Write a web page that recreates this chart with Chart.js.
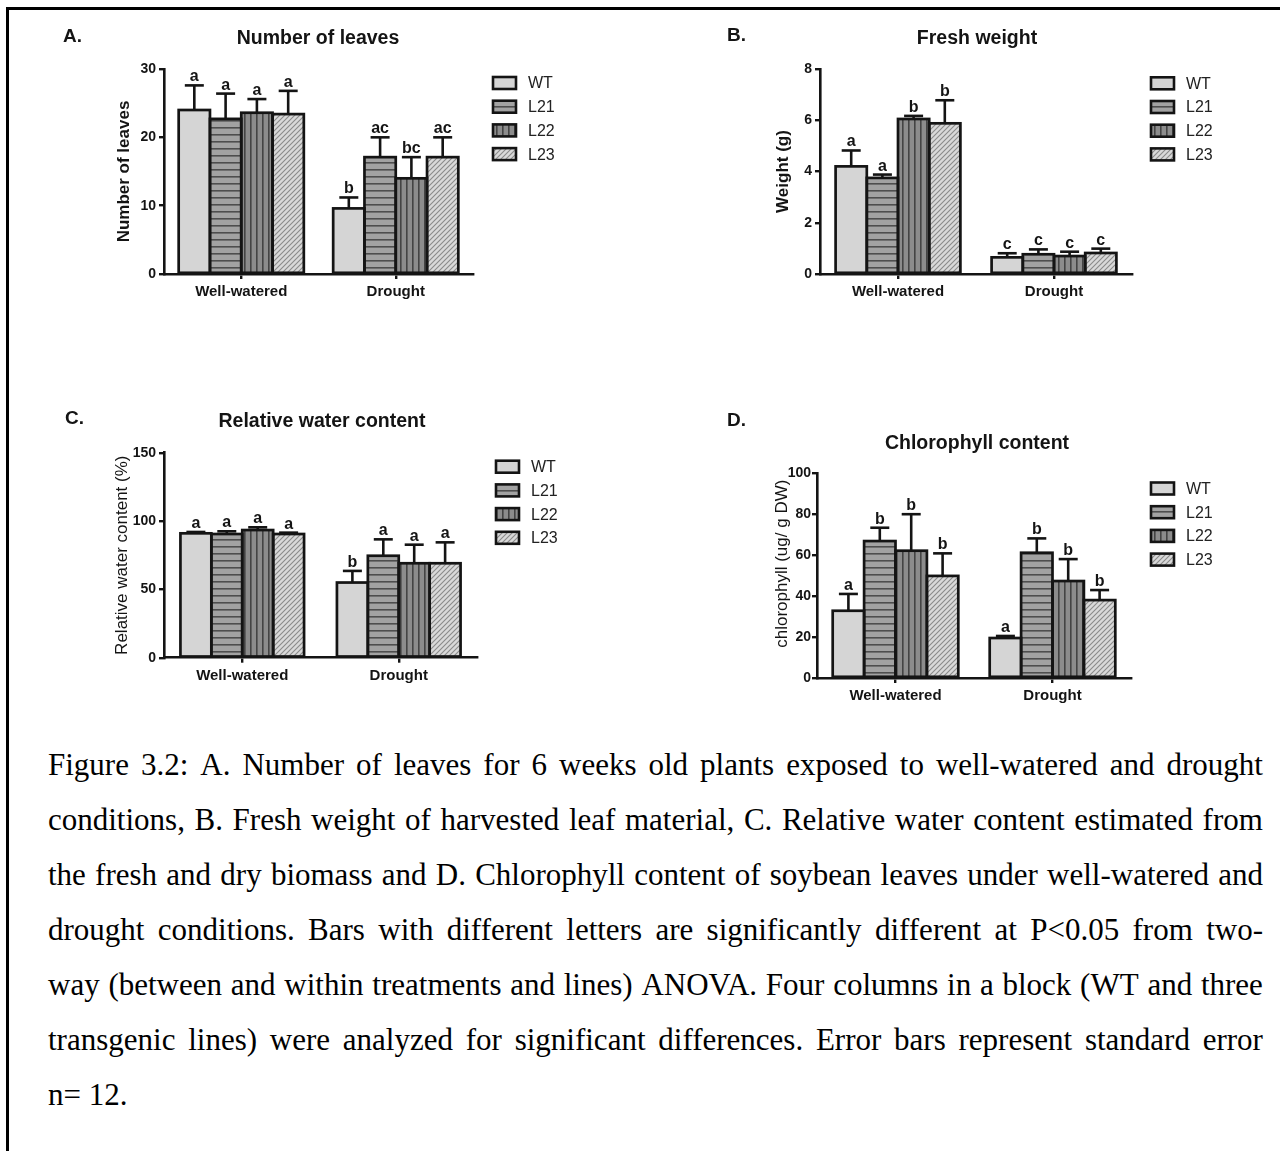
<!DOCTYPE html>
<html><head><meta charset="utf-8">
<script src="https://cdn.jsdelivr.net/npm/chart.js@4/dist/chart.umd.min.js"></script>
<style>
html,body{margin:0;padding:0;background:#fff;}
body{width:1280px;height:1151px;position:relative;overflow:hidden;}
canvas{position:absolute;}
#bt{position:absolute;left:6px;top:7px;width:1274px;height:2.5px;background:#000;}
#bl{position:absolute;left:6px;top:7px;width:2.5px;height:1144px;background:#000;}
#cap{position:absolute;left:48px;top:737px;width:1215px;font-family:'Liberation Serif','Times New Roman',serif;font-size:31px;color:#000;}
.ln{display:flex;justify-content:space-between;height:55px;line-height:55px;white-space:nowrap;}
.ln.last{justify-content:flex-start;}
</style></head><body>
<div id="bt"></div><div id="bl"></div>
<canvas id="cA" width="640" height="370" style="left:0;top:10px"></canvas>
<canvas id="cB" width="640" height="370" style="left:640px;top:10px"></canvas>
<canvas id="cC" width="640" height="340" style="left:0;top:380px"></canvas>
<canvas id="cD" width="640" height="340" style="left:640px;top:380px"></canvas>
<div id="cap"></div>
<script>
// ---------------- DATA ----------------
const categories = ['Well-watered', 'Drought'];
const seriesNames = ['WT', 'L21', 'L22', 'L23'];

// A. Number of leaves: mean per series [Well-watered, Drought]
const leavesMean = [[24.0, 9.6], [22.7, 17.1], [23.6, 14.0], [23.4, 17.1]];
const leavesErr = [[3.6, 1.6], [3.7, 2.9], [2.0, 3.1], [3.4, 2.9]];
const leavesLetters = [['a', 'b'], ['a', 'ac'], ['a', 'bc'], ['a', 'ac']];
const leavesTicks = [0, 10, 20, 30];

// B. Fresh weight (g)
const weightMean = [[4.2, 0.65], [3.75, 0.77], [6.05, 0.70], [5.88, 0.82]];
const weightErr = [[0.62, 0.16], [0.13, 0.19], [0.12, 0.17], [0.9, 0.17]];
const weightLetters = [['a', 'c'], ['a', 'c'], ['b', 'c'], ['b', 'c']];
const weightTicks = [0, 2, 4, 6, 8];

// C. Relative water content (%)
const rwcMean = [[91.0, 55.0], [90.5, 74.6], [93.4, 69.1], [90.5, 69.1]];
const rwcErr = [[1.0, 8.5], [2.0, 12.0], [2.0, 13.6], [1.0, 15.3]];
const rwcLetters = [['a', 'b'], ['a', 'a'], ['a', 'a'], ['a', 'a']];
const rwcTicks = [0, 50, 100, 150];

// D. Chlorophyll content (ug/ g DW)
const chlMean = [[32.8, 19.5], [66.8, 61.1], [62.1, 47.3], [49.8, 38.0]];
const chlErr = [[8.2, 1.0], [6.5, 7.0], [17.8, 10.7], [11.0, 4.9]];
const chlLetters = [['a', 'a'], ['b', 'b'], ['b', 'b'], ['b', 'b']];
const chlTicks = [0, 20, 40, 60, 80, 100];

const captionLines = [
  'Figure 3.2: A. Number of leaves for 6 weeks old plants exposed to well-watered and drought',
  'conditions, B. Fresh weight of harvested leaf material, C. Relative water content estimated from',
  'the fresh and dry biomass and D. Chlorophyll content of soybean leaves under well-watered and',
  'drought conditions. Bars with different letters are significantly different at P<0.05 from two-',
  'way (between and within treatments and lines) ANOVA. Four columns in a block (WT and three',
  'transgenic lines) were analyzed for significant differences. Error bars represent standard error',
  'n= 12.'
];

// ---------------- CAPTION ----------------
const cap = document.getElementById('cap');
captionLines.forEach((line, i) => {
  const d = document.createElement('div');
  d.className = 'ln' + (i === captionLines.length - 1 ? ' last' : '');
  if (i === captionLines.length - 1) { d.textContent = line; }
  else line.split(' ').forEach(w => { const s = document.createElement('span'); s.textContent = w; d.appendChild(s); });
  cap.appendChild(d);
});

// ---------------- PATTERNS ----------------
function tile(w, h, draw) {
  const c = document.createElement('canvas'); c.width = w; c.height = h;
  const x = c.getContext('2d'); draw(x, w, h);
  return x.createPattern(c, 'repeat');
}
const fills = [
  '#d5d5d5',
  tile(8, 7, (x, w, h) => { x.fillStyle = '#a2a2a2'; x.fillRect(0, 0, w, h); x.fillStyle = '#4e4e4e'; x.fillRect(0, 5, w, 1.6); }),
  tile(6, 8, (x, w, h) => { x.fillStyle = '#8c8c8c'; x.fillRect(0, 0, w, h); x.fillStyle = '#444'; x.fillRect(4, 0, 1.6, h); }),
  tile(5, 5, (x, w, h) => {
    x.fillStyle = '#d9d9d9'; x.fillRect(0, 0, w, h);
    x.strokeStyle = '#8a8a8a'; x.lineWidth = 1.1;
    x.beginPath(); x.moveTo(-1, 6); x.lineTo(6, -1); x.moveTo(-1, 1); x.lineTo(1, -1); x.moveTo(4, 6); x.lineTo(6, 4); x.stroke();
  })
];

// ---------------- PLUGIN ----------------
const INK = '#141414';
const annot = {
  id: 'annot',
  afterDatasetsDraw(chart, args, o) {
    const ctx = chart.ctx, ys = chart.scales.y;
    ctx.save();
    ctx.strokeStyle = INK; ctx.lineWidth = 2.6; ctx.lineCap = 'butt';
    chart.data.datasets.forEach((ds, i) => {
      chart.getDatasetMeta(i).data.forEach((el, j) => {
        const ye = ys.getPixelForValue(ds.data[j] + ds.errors[j]);
        ctx.beginPath(); ctx.moveTo(el.x, el.y); ctx.lineTo(el.x, ye); ctx.stroke();
        ctx.beginPath(); ctx.moveTo(el.x - 9.5, ye); ctx.lineTo(el.x + 9.5, ye); ctx.stroke();
      });
    });
    ctx.lineJoin = 'miter'; ctx.lineWidth = 2.7;
    chart.data.datasets.forEach((ds, i) => {
      chart.getDatasetMeta(i).data.forEach(el => {
        ctx.strokeRect(el.x - el.width / 2, el.y, el.width, el.base - el.y);
      });
    });
    ctx.fillStyle = INK; ctx.font = 'bold 16px "Liberation Sans", Arial, sans-serif';
    ctx.textAlign = 'center'; ctx.textBaseline = 'alphabetic';
    chart.data.datasets.forEach((ds, i) => {
      chart.getDatasetMeta(i).data.forEach((el, j) => {
        const ye = ys.getPixelForValue(ds.data[j] + ds.errors[j]);
        ctx.fillText(ds.letters[j], el.x, ye - 4);
      });
    });
    ctx.restore();
  },
  afterDraw(chart, args, o) {
    const ctx = chart.ctx;
    ctx.save();
    ctx.fillStyle = INK;
    ctx.font = 'bold 19px "Liberation Sans", Arial, sans-serif';
    ctx.textAlign = 'left'; ctx.textBaseline = 'alphabetic';
    ctx.fillText(o.panel, o.panelX, o.panelY);
    ctx.font = 'bold 19.5px "Liberation Sans", Arial, sans-serif';
    ctx.textAlign = 'center';
    ctx.fillText(o.title, o.titleX, o.titleY);
    // legend
    ctx.font = '16px "Liberation Sans", Arial, sans-serif';
    ctx.textAlign = 'left'; ctx.textBaseline = 'middle';
    chart.data.datasets.forEach((ds, i) => {
      const cy = o.legY + i * 23.7;
      ctx.fillStyle = ds.backgroundColor;
      ctx.fillRect(o.legX, cy - 6, 23, 12);
      ctx.strokeStyle = INK; ctx.lineWidth = 2.6;
      ctx.strokeRect(o.legX, cy - 6, 23, 12);
      ctx.fillStyle = '#222';
      ctx.fillText(ds.label, o.legX + 35, cy + 1);
    });
    ctx.restore();
  }
};

function buildDatasets(means, errs, letters) {
  return seriesNames.map((name, i) => ({
    label: name,
    data: means[i],
    errors: errs[i],
    letters: letters[i],
    backgroundColor: fills[i],
    borderWidth: 0,
    inflateAmount: 0
  }));
}

function makeChart(id, p) {
  const ticks = p.ticks;
  new Chart(document.getElementById(id), {
    type: 'bar',
    data: { labels: categories, datasets: buildDatasets(p.means, p.errs, p.letters) },
    plugins: [annot],
    options: {
      responsive: false, animation: false, devicePixelRatio: 1,
      layout: { autoPadding: false, padding: p.pad },
      datasets: { bar: { categoryPercentage: p.cat, barPercentage: 1.0 } },
      plugins: {
        legend: { display: false }, tooltip: { enabled: false }, title: { display: false },
        annot: p.annot
      },
      scales: {
        x: {
          afterFit: s => { s.height = 40; },
          grid: { offset: false, drawOnChartArea: false, drawTicks: true, tickLength: 5, color: INK, lineWidth: 2.4 },
          border: { display: true, color: INK, width: 2.6 },
          ticks: { color: INK, padding: 4, maxRotation: 0, autoSkip: false,
                   font: { family: '"Liberation Sans", Arial, sans-serif', size: 15, weight: 'bold' } }
        },
        y: {
          min: ticks[0], max: ticks[ticks.length - 1],
          afterFit: s => { s.width = 60; },
          afterBuildTicks: s => { s.ticks = ticks.map(v => ({ value: v })); },
          grid: { drawOnChartArea: false, drawTicks: true, tickLength: 5, color: INK, lineWidth: 2.4 },
          border: { display: true, color: INK, width: 2.6 },
          ticks: { color: INK, padding: p.tickPad,
                   font: { family: '"Liberation Sans", Arial, sans-serif', size: 14, weight: 'bold' } },
          title: { display: true, text: p.yTitle, color: INK, padding: { top: p.yTitlePad, bottom: 0 },
                   font: { family: '"Liberation Sans", Arial, sans-serif', size: 17, weight: p.yBold ? 'bold' : 'normal', lineHeight: 1.2 } }
        }
      }
    }
  });
}

makeChart('cA', {
  means: leavesMean, errs: leavesErr, letters: leavesLetters, ticks: leavesTicks,
  pad: { left: 104, top: 59, right: 167, bottom: 66 }, cat: 0.81, tickPad: 3,
  yTitle: 'Number of leaves', yTitlePad: 9.8, yBold: true,
  annot: { panel: 'A.', panelX: 63, panelY: 32, title: 'Number of leaves', titleX: 318, titleY: 34, legX: 493, legY: 73 }
});
makeChart('cB', {
  means: weightMean, errs: weightErr, letters: weightLetters, ticks: weightTicks,
  pad: { left: 120, top: 59, right: 148, bottom: 66 }, cat: 0.80, tickPad: 3,
  yTitle: 'Weight (g)', yTitlePad: 12.8, yBold: true,
  annot: { panel: 'B.', panelX: 87, panelY: 31, title: 'Fresh weight', titleX: 337, titleY: 34, legX: 511, legY: 73.3 }
});
makeChart('cC', {
  means: rwcMean, errs: rwcErr, letters: rwcLetters, ticks: rwcTicks,
  pad: { left: 104, top: 72.7, right: 163, bottom: 22.3 }, cat: 0.79, tickPad: 3,
  yTitle: 'Relative water content (%)', yTitlePad: 7.8, yBold: false,
  annot: { panel: 'C.', panelX: 65, panelY: 44, title: 'Relative water content', titleX: 322, titleY: 47, legX: 496, legY: 86.7 }
});
makeChart('cD', {
  means: chlMean, errs: chlErr, letters: chlLetters, ticks: chlTicks,
  pad: { left: 117, top: 93, right: 149, bottom: 2 }, cat: 0.80, tickPad: 1,
  yTitle: '\u00a0\u00a0\u00a0\u00a0\u00a0chlorophyll (ug/ g DW)', yTitlePad: 15.5, yBold: false,
  annot: { panel: 'D.', panelX: 87, panelY: 46, title: 'Chlorophyll content', titleX: 337, titleY: 69, legX: 511, legY: 108.5 }
});
</script>
</body></html>
